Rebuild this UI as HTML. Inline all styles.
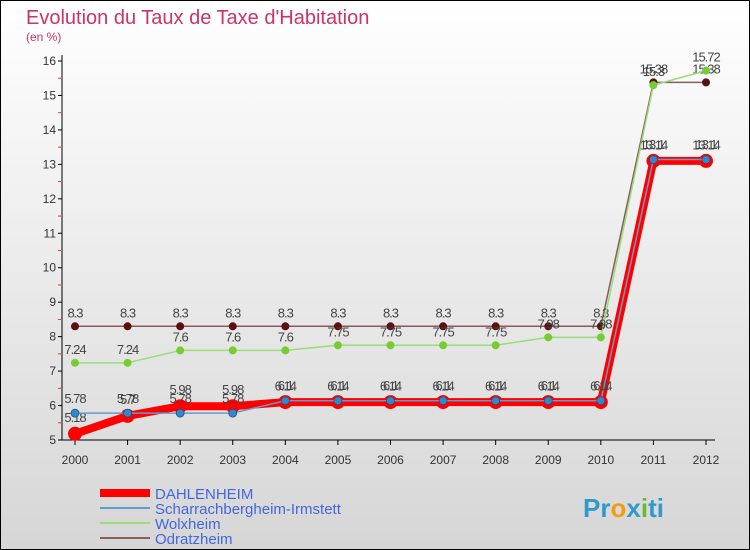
<!DOCTYPE html>
<html><head><meta charset="utf-8"><style>
body{margin:0;width:750px;height:550px;overflow:hidden;font-family:"Liberation Sans",sans-serif}
svg{display:block}
</style></head><body>
<svg id="c" width="750" height="550" xmlns="http://www.w3.org/2000/svg">
<defs><linearGradient id="bg" x1="0" y1="0" x2="0" y2="1"><stop offset="0" stop-color="#ffffff"/><stop offset="1" stop-color="#d6d6d6"/></linearGradient></defs>
<rect x="0.5" y="0.5" width="749" height="549" fill="url(#bg)" stroke="#000"/>
<text x="26" y="24" font-size="20" fill="#cc3366">Evolution du Taux de Taxe d'Habitation</text>
<text x="26" y="41" font-size="12" fill="#cc3366">(en %)</text>
<g id="axes"></g><g id="series"></g><g id="legend"></g>
<text x="583" y="517" font-size="26" font-weight="bold" fill="#3399cc">Pr<tspan fill="#f39c12">o</tspan>x<tspan fill="#66bb33">i</tspan>ti</text>
</svg>
<script>
const years=[2000,2001,2002,2003,2004,2005,2006,2007,2008,2009,2010,2011,2012];
const yTicks=[5,6,7,8,9,10,11,12,13,14,15,16];
const dahl=[5.18,5.7,5.98,5.98,6.1,6.1,6.1,6.1,6.1,6.1,6.1,13.1,13.1];
const scha=[5.78,5.78,5.78,5.78,6.14,6.14,6.14,6.14,6.14,6.14,6.14,13.14,13.14];
const wolx=[7.24,7.24,7.6,7.6,7.6,7.75,7.75,7.75,7.75,7.98,7.98,15.3,15.72];
const odra=[8.3,8.3,8.3,8.3,8.3,8.3,8.3,8.3,8.3,8.3,8.3,15.38,15.38];
const NS='http://www.w3.org/2000/svg';
const X=i=>75+i*(706-75)/12;
const Y=v=>440-(v-5)*(440-61)/11;
function mk(p,t,a){const e=document.createElementNS(NS,t);for(const k in a)e.setAttribute(k,a[k]);p.appendChild(e);return e;}
const ax=document.getElementById('axes');
let l=mk(ax,'line',{x1:62,y1:55,x2:62,y2:440,stroke:'#000'});


l=mk(ax,'line',{x1:62,y1:440,x2:715,y2:440,stroke:'#000'});


yTicks.forEach(v=>{mk(ax,'line',{x1:58,y1:Y(v),x2:62,y2:Y(v),stroke:'#000'});
 if(v<16)mk(ax,'line',{x1:58,y1:Y(v+0.5),x2:61,y2:Y(v+0.5),stroke:'#e33'});
 const t=mk(ax,'text',{x:56,y:Y(v)+4,'font-size':12,'text-anchor':'end',fill:'#333'});t.textContent=v;
 
 });
years.forEach((y,i)=>{mk(ax,'line',{x1:X(i),y1:440,x2:X(i),y2:445,stroke:'#000'});
 const t=mk(ax,'text',{x:X(i),y:464,'font-size':12,'text-anchor':'middle',fill:'#333'});t.textContent=y;
 
 });
const sg=document.getElementById('series');
const S=[
 {n:'odratzheim',d:odra,c:'#8b5a5a',w:1.5,dot:'#5a1010',r:4,lab:-9},
 {n:'wolxheim',d:wolx,c:'#99dd77',w:1.5,dot:'#77cc33',r:4,lab:-9},
 {n:'dahlenheim',d:dahl,c:'#ff0000',w:8,dot:'#ff0000',r:7,lab:-12},
 {n:'scharrachbergheim',d:scha,c:'#6699cc',w:1.5,dot:'#3388cc',r:4,lab:-10}];
S.forEach(s=>{
 const p=mk(sg,'polyline',{points:s.d.map((v,i)=>X(i)+','+Y(v)).join(' '),fill:'none',stroke:s.c,'stroke-width':s.w,'stroke-linejoin':'round'});
 
 
 s.d.forEach((v,i)=>{const c=mk(sg,'circle',{cx:X(i),cy:Y(v),r:s.r,fill:s.dot,stroke:s.n=='scharrachbergheim'?'#1a4f80':'none','stroke-width':0.7});
  
  
  const t=mk(sg,'text',{x:X(i),y:Y(v)+s.lab,'font-size':13,'text-anchor':'middle',fill:'#444','letter-spacing':'-1'});t.textContent=v;
  
  });
});
const lg=document.getElementById('legend');
[['DAHLENHEIM','#ff0000',8],['Scharrachbergheim-Irmstett','#6699cc',2],['Wolxheim','#99dd77',2],['Odratzheim','#8b5a5a',2]].forEach((e,i)=>{
 const y=493+i*15;
 const li=mk(lg,'line',{x1:100,y1:y,x2:150,y2:y,stroke:e[1],'stroke-width':e[2]});
 
 
 const t=mk(lg,'text',{x:155,y:y+6,'font-size':15,fill:'#4466dd'});t.textContent=e[0];
 
 
});
</script>
</body></html>
